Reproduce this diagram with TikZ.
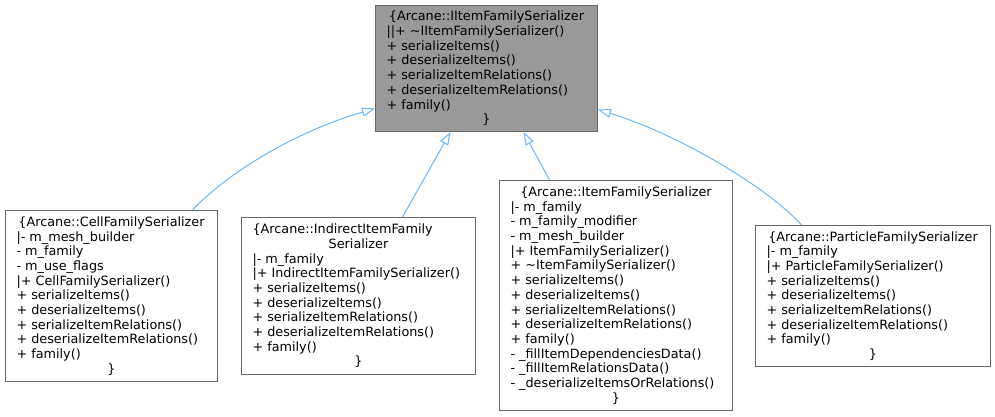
\documentclass[tikz,border=0pt]{standalone}
\usepackage{fontspec}
\setmainfont{DejaVu Sans}
\usetikzlibrary{arrows.meta}
\definecolor{edgeblue}{HTML}{63B8FF}
\definecolor{boxborder}{HTML}{666666}
\definecolor{boxfill}{HTML}{999999}
\newcommand\Lline[1]{\hbox to\hsize{#1\hss}}
\newcommand\Cline[1]{\hbox to\hsize{\hss#1\hss}}
\newcommand\classtext[2]{\vbox{\hsize=#1\relax #2}}
\tikzset{
  classbox/.style={draw=boxborder, line width=1pt, fill=white, inner sep=0pt,
    anchor=north west, font=\fontsize{12.8}{14.7}\selectfont},
  basebox/.style={classbox, fill=boxfill},
  inherit/.style={draw=edgeblue, line width=1pt,
    -{Triangle[open, length=13pt, width=9pt]}}
}
\begin{document}
\begin{tikzpicture}[x=1pt, y=-1pt]
\useasboundingbox (0,0) rectangle (995,417);

\node[basebox, minimum width=222pt, minimum height=126pt] (base) at (375,5) {\classtext{200pt}{%
  \Cline{\{Arcane::IItemFamilySerializer}
  \Lline{||+ \textasciitilde IItemFamilySerializer()}
  \Lline{+ serializeItems()}
  \Lline{+ deserializeItems()}
  \Lline{+ serializeItemRelations()}
  \Lline{+ deserializeItemRelations()}
  \Lline{+ family()}
  \Cline{\}}}};

\node[classbox, minimum width=212pt, minimum height=171pt] (cell) at (5,210) {\classtext{190pt}{%
  \Cline{\{Arcane::CellFamilySerializer}
  \Lline{|- m\_mesh\_builder}
  \Lline{- m\_family}
  \Lline{- m\_use\_flags}
  \Lline{|+ CellFamilySerializer()}
  \Lline{+ serializeItems()}
  \Lline{+ deserializeItems()}
  \Lline{+ serializeItemRelations()}
  \Lline{+ deserializeItemRelations()}
  \Lline{+ family()}
  \Cline{\}}}};

\node[classbox, minimum width=234pt, minimum height=157pt] (indirect) at (241,217) {\classtext{212pt}{%
  \Lline{\{Arcane::IndirectItemFamily}
  \Cline{Serializer}
  \Lline{|- m\_family}
  \Lline{|+ IndirectItemFamilySerializer()}
  \Lline{+ serializeItems()}
  \Lline{+ deserializeItems()}
  \Lline{+ serializeItemRelations()}
  \Lline{+ deserializeItemRelations()}
  \Lline{+ family()}
  \Cline{\}}}};

\node[classbox, minimum width=233pt, minimum height=230pt] (item) at (499,180) {\classtext{211pt}{%
  \Cline{\{Arcane::ItemFamilySerializer}
  \Lline{|- m\_family}
  \Lline{- m\_family\_modifier}
  \Lline{- m\_mesh\_builder}
  \Lline{|+ ItemFamilySerializer()}
  \Lline{+ \textasciitilde ItemFamilySerializer()}
  \Lline{+ serializeItems()}
  \Lline{+ deserializeItems()}
  \Lline{+ serializeItemRelations()}
  \Lline{+ deserializeItemRelations()}
  \Lline{+ family()}
  \Lline{- \_fillItemDependenciesData()}
  \Lline{- \_fillItemRelationsData()}
  \Lline{- \_deserializeItemsOrRelations()}
  \Cline{\}}}};

\node[classbox, minimum width=235pt, minimum height=141pt] (particle) at (755,225) {\classtext{213pt}{%
  \Cline{\{Arcane::ParticleFamilySerializer}
  \Lline{|- m\_family}
  \Lline{|+ ParticleFamilySerializer()}
  \Lline{+ serializeItems()}
  \Lline{+ deserializeItems()}
  \Lline{+ serializeItemRelations()}
  \Lline{+ deserializeItemRelations()}
  \Lline{+ family()}
  \Cline{\}}}};

\draw[inherit] ([xshift=81pt]cell.north) .. controls +(38,-40) and +(-76,22) .. ([yshift=-40pt]base.west);
\draw[inherit] ([xshift=44pt]indirect.north) -- ([xshift=-36pt]base.south);
\draw[inherit] ([xshift=-66.5pt]item.north) -- ([xshift=37pt]base.south);
\draw[inherit] ([xshift=-71.5pt]particle.north) .. controls +(-31,-35) and +(84,26) .. ([yshift=-41pt]base.east);
\end{tikzpicture}
\end{document}
